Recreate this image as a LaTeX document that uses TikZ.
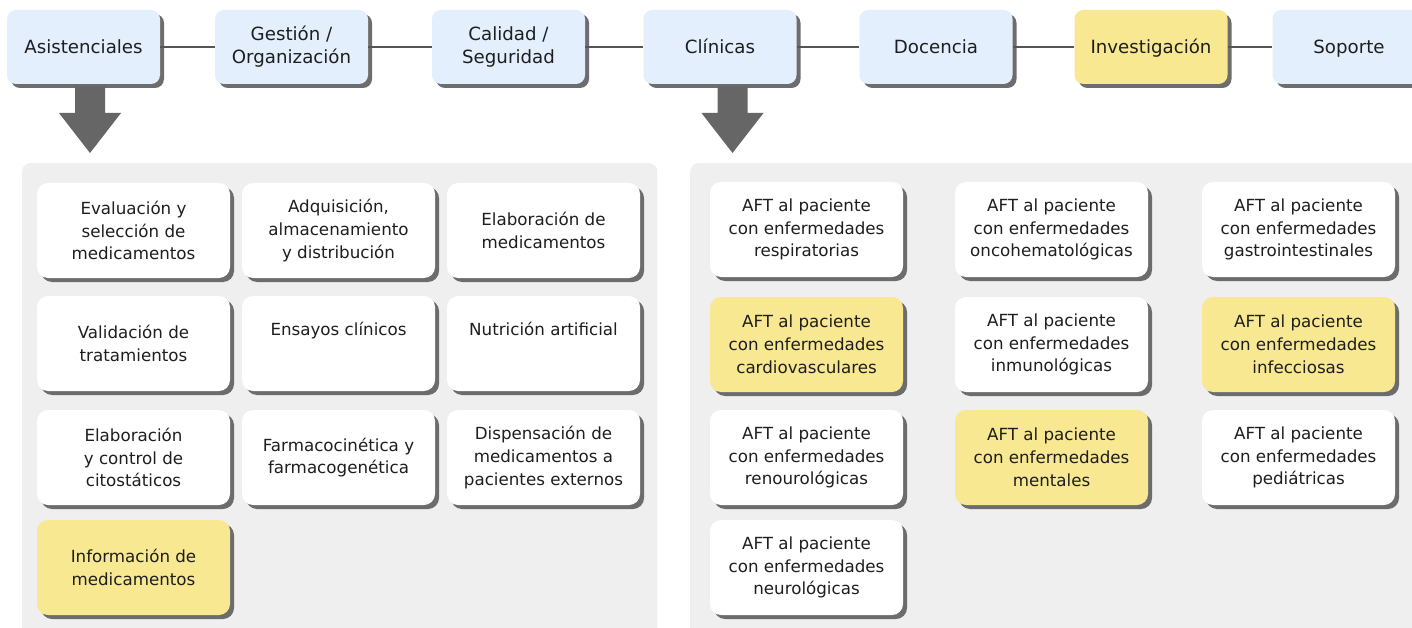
\documentclass[tikz,border=0pt]{standalone}
\usepackage{fontspec}
\setmainfont{DejaVu Sans}
\usetikzlibrary{shadows}
\definecolor{topblue}{HTML}{E3EFFC}
\definecolor{hiyellow}{HTML}{F7E891}
\definecolor{panelgray}{HTML}{EFEFEF}
\definecolor{shadowc}{HTML}{5E5E5E}
\definecolor{arrowc}{HTML}{666666}
\definecolor{linec}{HTML}{555555}
\definecolor{txt}{HTML}{1E1E1E}
\tikzset{
  boxshadow/.style={drop shadow={shadow xshift=4pt, shadow yshift=-4pt, fill=shadowc, opacity=0.9}},
  topbox/.style={boxshadow, fill=topblue, rounded corners=9pt, minimum width=153pt, minimum height=74pt,
    align=center, text=txt, font=\fontsize{18.2}{23}\selectfont, inner sep=0pt},
  oneline/.style={text height=13pt, text depth=0pt},
  itembox/.style={boxshadow, fill=white, rounded corners=11pt, minimum width=193pt, minimum height=95pt,
    align=center, text=txt, font=\fontsize{16.7}{22.8}\selectfont, inner sep=0pt},
  hl/.style={fill=hiyellow},
  panel/.style={fill=panelgray, rounded corners=8pt},
  link/.style={draw=linec, line width=1.5pt},
  bigarrow/.style={fill=arrowc}
}
\begin{document}
\begin{tikzpicture}[x=1pt,y=-1pt]
\useasboundingbox (0,0) rectangle (1412,628);
\fill[white] (0,0) rectangle (1412,628);
% panels
\node[panel, minimum width=635pt, minimum height=480pt, anchor=north west, inner sep=0pt] (lpanel) at (22,163) {};
\node[panel, minimum width=740pt, minimum height=480pt, anchor=north west, inner sep=0pt] (rpanel) at (690,163) {};
% top row
\node[topbox, oneline] (asis) at (83.5,47) {Asistenciales};
\node[topbox] (gest) at (291.5,47) {Gestión /\\Organización};
\node[topbox] (cali) at (508.5,47) {Calidad /\\Seguridad};
\node[topbox, oneline] (clin) at (720,47) {Clínicas};
\node[topbox, oneline] (doce) at (936,47) {Docencia};
\node[topbox, oneline, hl] (inve) at (1151,47) {Investigación};
\node[topbox, oneline] (sopo) at (1349,47) {Soporte};
\draw[link] (asis) -- (gest);
\draw[link] (gest) -- (cali);
\draw[link] (cali) -- (clin);
\draw[link] (clin) -- (doce);
\draw[link] (doce) -- (inve);
\draw[link] (inve) -- (sopo);
% big arrows
\coordinate (la) at (90,86);
\coordinate (ra) at (732.5,86);
\foreach \c in {la,ra}{
  \fill[bigarrow] ([xshift=-15pt]\c) -- ([xshift=15pt]\c) -- ([xshift=15pt,yshift=-27pt]\c)
    -- ([xshift=31pt,yshift=-27pt]\c) -- ([yshift=-67pt]\c) -- ([xshift=-31pt,yshift=-27pt]\c)
    -- ([xshift=-15pt,yshift=-27pt]\c) -- cycle;
}
% left panel items
\node[itembox] (l11) at (133.5,230.5) {Evaluación y\\selección de\\medicamentos};
\node[itembox] (l12) at (338.5,230.5) {Adquisición,\\almacenamiento\\y distribución};
\node[itembox] (l13) at (543.5,230.5) {Elaboración de\\medicamentos};
\node[itembox] (l21) at (133.5,343.5) {Validación de\\tratamientos};
\node[itembox] (l22) at (338.5,343.5) {Ensayos clínicos\\\strut};
\node[itembox] (l23) at (543.5,343.5) {Nutrición artificial\\\strut};
\node[itembox] (l31) at (133.5,457.5) {Elaboración\\y control de\\citostáticos};
\node[itembox] (l32) at (338.5,457.5) {Farmacocinética y\\farmacogenética};
\node[itembox] (l33) at (543.5,457.5) {Dispensación de\\medicamentos a\\pacientes externos};
\node[itembox, hl] (l41) at (133.5,567.5) {Información de\\medicamentos};
% right panel items
\node[itembox] (r11) at (806.5,229.5) {AFT al paciente\\con enfermedades\\respiratorias};
\node[itembox] (r12) at (1051.5,229.5) {AFT al paciente\\con enfermedades\\oncohematológicas};
\node[itembox] (r13) at (1298.5,229.5) {AFT al paciente\\con enfermedades\\gastrointestinales};
\node[itembox, hl] (r21) at (806.5,344.5) {AFT al paciente\\con enfermedades\\cardiovasculares};
\node[itembox] (r22) at (1051.5,344.5) {AFT al paciente\\con enfermedades\\inmunológicas};
\node[itembox, hl] (r23) at (1298.5,344.5) {AFT al paciente\\con enfermedades\\infecciosas};
\node[itembox] (r31) at (806.5,457.5) {AFT al paciente\\con enfermedades\\renourológicas};
\node[itembox, hl] (r32) at (1051.5,457.5) {AFT al paciente\\con enfermedades\\mentales};
\node[itembox] (r33) at (1298.5,457.5) {AFT al paciente\\con enfermedades\\pediátricas};
\node[itembox] (r41) at (806.5,567.5) {AFT al paciente\\con enfermedades\\neurológicas};
\end{tikzpicture}
\end{document}
